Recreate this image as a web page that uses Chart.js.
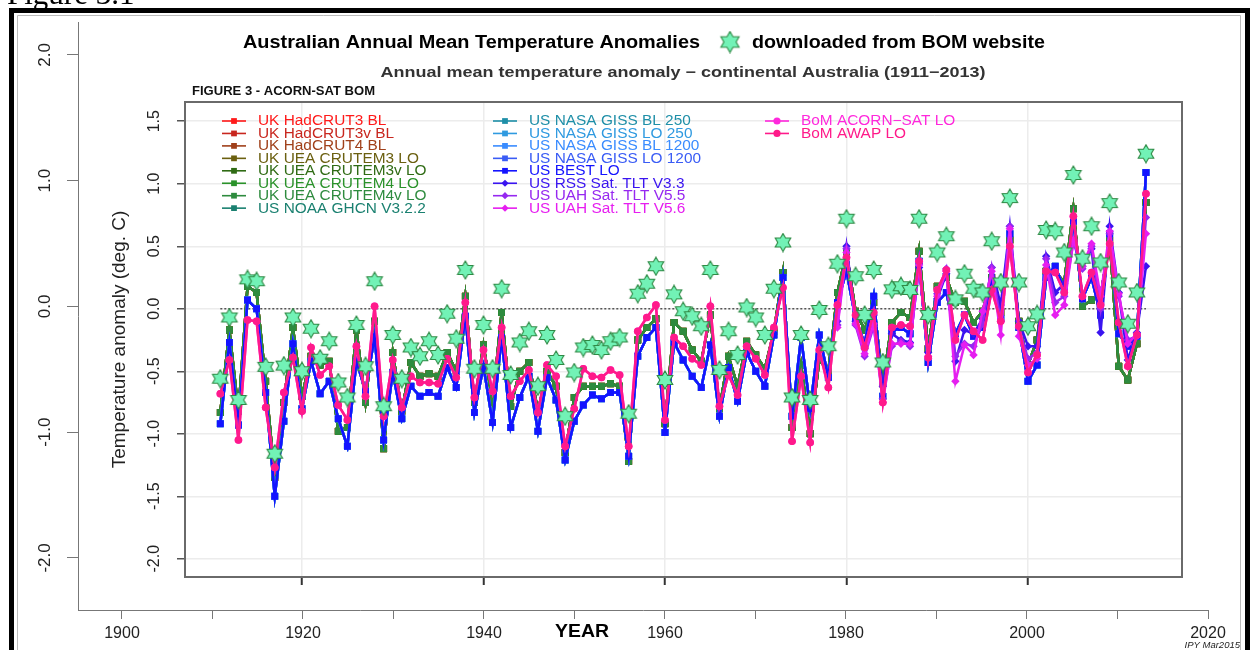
<!DOCTYPE html>
<html><head><meta charset="utf-8">
<script src="https://cdn.jsdelivr.net/npm/chart.js@4.4.1/dist/chart.umd.min.js"></script>
<style>
html,body{margin:0;padding:0;background:#fff;}
#wrap{position:relative;width:1258px;height:650px;overflow:hidden;background:#fff;}
canvas{position:absolute;left:0;top:0;}
</style></head><body>
<div id="wrap"><canvas id="inner" width="1258" height="650"></canvas><canvas id="outer" width="1258" height="650"></canvas></div>
<script>
// ---------------- DATA ----------------
const years = Array.from({length: 103}, (_, i) => 1911 + i);   // 1911..2013
const satYears = Array.from({length: 35}, (_, i) => 1979 + i); // 1979..2013

// UK HadCRUT / CRUTEM group (deg C anomaly)
const ukValues = [
 -0.83,-0.17,-0.82,0.18,0.13,-0.58,-1.35,-0.75,-0.15,-0.70,
 -0.38,-0.45,-0.42,-0.98,-0.95,-0.17,-0.75,-0.10,-1.12,-0.35,
 -0.82,-0.43,-0.54,-0.52,-0.54,-0.35,-0.50,0.10,-0.75,-0.29,
 -0.75,-0.03,-0.78,-0.50,-0.43,-0.82,-0.50,-0.62,-1.15,-0.71,
 -0.62,-0.62,-0.62,-0.60,-0.62,-1.22,-0.25,-0.15,-0.08,-0.92,
 -0.11,-0.18,-0.33,-0.42,-0.05,-0.80,-0.38,-0.62,-0.26,-0.37,
 -0.48,-0.18,0.29,-0.95,-0.45,-1.00,-0.41,-0.50,0.13,0.45,
 -0.02,-0.17,0.05,-0.60,-0.11,-0.03,-0.07,0.46,-0.32,0.18,
 0.25,0.05,0.06,-0.11,-0.02,0.25,-0.03,0.55,-0.10,-0.45,
 -0.25,0.30,0.30,0.21,0.80,0.02,0.07,0.10,0.55,-0.46,
 -0.57,-0.28,0.85
];
// US NOAA / NASA GISS / BEST group
const usValues = [
 -0.92,-0.27,-0.93,0.07,0.00,-0.67,-1.50,-0.90,-0.28,-0.80,
 -0.42,-0.68,-0.58,-0.88,-1.10,-0.42,-0.66,-0.22,-1.05,-0.51,
 -0.88,-0.62,-0.70,-0.67,-0.70,-0.47,-0.63,-0.06,-0.83,-0.46,
 -0.91,-0.23,-0.95,-0.71,-0.54,-0.98,-0.55,-0.73,-1.21,-0.90,
 -0.77,-0.69,-0.72,-0.67,-0.67,-1.18,-0.38,-0.23,-0.15,-0.99,
 -0.27,-0.41,-0.54,-0.63,-0.29,-0.86,-0.47,-0.74,-0.35,-0.50,
 -0.62,-0.21,0.25,-0.86,-0.23,-0.80,-0.21,-0.55,0.05,0.30,
 -0.08,-0.28,0.10,-0.70,-0.18,-0.15,-0.20,0.38,-0.43,0.05,
 0.13,-0.20,-0.05,-0.22,-0.15,0.20,-0.08,0.60,-0.15,-0.58,
 -0.45,0.25,0.34,0.15,0.70,0.08,0.25,-0.05,0.60,-0.20,
 -0.30,-0.22,1.09
];
// BoM ACORN-SAT / AWAP group
const bomValues = [
 -0.68,-0.41,-1.05,-0.09,-0.10,-0.79,-1.27,-0.67,-0.39,-0.82,
 -0.31,-0.53,-0.46,-0.77,-0.89,-0.30,-0.70,0.02,-0.86,-0.41,
 -0.79,-0.54,-0.59,-0.59,-0.60,-0.40,-0.55,0.05,-0.71,-0.33,
 -0.66,-0.15,-0.70,-0.58,-0.49,-0.83,-0.45,-0.54,-1.10,-0.80,
 -0.48,-0.54,-0.55,-0.49,-0.53,-1.10,-0.18,-0.07,0.03,-0.89,
 -0.23,-0.30,-0.40,-0.45,0.02,-0.78,-0.53,-0.69,-0.30,-0.40,
 -0.53,-0.15,0.17,-1.06,-0.54,-1.07,-0.33,-0.63,0.03,0.41,
 -0.05,-0.31,-0.03,-0.75,-0.15,-0.13,-0.14,0.38,-0.39,0.15,
 0.31,-0.25,-0.05,-0.18,-0.25,0.15,-0.10,0.50,-0.14,-0.51,
 -0.37,0.30,0.29,0.13,0.74,0.10,0.29,0.03,0.52,-0.11,
 -0.46,-0.21,0.92
];
// Satellite TLT series (1979-2013)
const rssValues = [
 -0.10,0.50,-0.10,-0.32,-0.05,-0.62,-0.20,-0.25,-0.27,0.33,
 -0.35,0.08,0.28,-0.42,-0.17,-0.20,-0.08,0.33,0.03,0.66,
 -0.10,-0.30,-0.30,0.42,0.13,0.20,0.55,0.34,0.48,-0.19,
 0.66,0.13,-0.41,-0.19,0.34
];
const uah55Values = [
 -0.13,0.48,-0.13,-0.38,-0.14,-0.72,-0.30,-0.26,-0.30,0.38,
 -0.40,0.12,0.32,-0.38,-0.28,-0.30,-0.12,0.33,-0.10,0.66,
 -0.15,-0.40,-0.35,0.40,0.05,0.10,0.53,0.32,0.50,0.00,
 0.60,0.10,-0.25,-0.22,0.73
];
const uah56Values = [
 -0.15,0.45,-0.12,-0.36,-0.12,-0.75,-0.28,-0.28,-0.28,0.35,
 -0.38,0.10,0.30,-0.58,-0.29,-0.37,-0.02,0.30,-0.21,0.64,
 -0.22,-0.45,-0.40,0.35,-0.05,0.03,0.55,0.34,0.52,0.10,
 0.62,0.12,-0.28,-0.20,0.60
];
// Stars: "downloaded from BOM website"
const bomWebsiteValues = [
 -0.56,-0.07,-0.73,0.235,0.22,-0.465,-1.16,-0.455,-0.07,-0.50,
 -0.16,-0.40,-0.26,-0.59,-0.71,-0.13,-0.46,0.22,-0.78,-0.21,
 -0.56,-0.31,-0.38,-0.26,-0.37,-0.04,-0.24,0.31,-0.48,-0.13,
 -0.48,0.16,-0.53,-0.27,-0.18,-0.62,-0.21,-0.41,-0.86,-0.51,
 -0.31,-0.29,-0.33,-0.26,-0.23,-0.84,0.12,0.20,0.34,-0.57,
 0.115,-0.02,-0.06,-0.14,0.31,-0.49,-0.18,-0.37,0.01,-0.07,
 -0.21,0.16,0.53,-0.71,-0.21,-0.73,-0.01,-0.30,0.36,0.72,
 0.26,-0.05,0.31,-0.43,0.155,0.18,0.15,0.72,-0.05,0.45,
 0.58,0.075,0.28,0.16,0.13,0.54,0.21,0.885,0.21,-0.14,
 -0.045,0.63,0.62,0.45,1.07,0.40,0.66,0.37,0.845,0.21,
 -0.12,0.13,1.24
];

const seriesNames = [
 'UK HadCRUT3 BL','UK HadCRUT3v BL','UK HadCRUT4 BL','UK UEA CRUTEM3 LO',
 'UK UEA CRUTEM3v LO','UK UEA CRUTEM4 LO','UK UEA CRUTEM4v LO','US NOAA GHCN V3.2.2',
 'US NASA GISS BL 250','US NASA GISS LO 250','US NASA GISS BL 1200','US NASA GISS LO 1200',
 'US BEST LO','US RSS Sat. TLT V3.3','US UAH Sat. TLT V5.5','US UAH Sat. TLT V5.6',
 'BoM ACORN\u2212SAT LO','BoM AWAP LO'
];
const seriesSource = ['uk','uk','uk','uk','uk','uk','uk','us','us','us','us','us','us','rss','uah55','uah56','bom','bom'];

const innerYTicks = [1.5,1.0,0.5,0.0,-0.5,-1.0,-1.5,-2.0];
const innerYLabels = ['1.5','1.0','0.5','0.0','-0.5','-1.0','-1.5','-2.0'];
const innerXTicks = [1920,1940,1960,1980,2000];
const outerYTicks = [2,1,0,-1,-2];
const outerYLabels = ['2.0','1.0','0.0','-1.0','-2.0'];
const outerXTicks = [1900,1910,1920,1930,1940,1950,1960,1970,1980,1990,2000,2010,2020];
const outerXLabels = ['1900','','1920','','1940','','1960','','1980','','2000','','2020'];

// ---------------- STYLES ----------------
const seriesColors = [
 '#ff1a1a','#c8261e','#a0401a','#6b6010','#2f6b14','#2a922a','#2e8b3e','#1a8070',
 '#1f8fa8','#2f9ae0','#3a8cff','#3a5cf5','#1414ff','#3a14f0','#9628f0','#e61ef0',
 '#ff28dc','#ff1a8a'
];
const seriesStyles = ['rect','rect','rect','rect','rect','rect','rect','rect',
 'rect','rect','rect','rect','rect','rectRot','rectRot','rectRot','circle','circle'];
const styleRadius = {rect: 4.8, rectRot: 4.2, circle: 3.8};
const FONT = '"Liberation Sans", Arial, sans-serif';

const sources = {
  uk: [years, ukValues], us: [years, usValues], bom: [years, bomValues],
  rss: [satYears, rssValues], uah55: [satYears, uah55Values], uah56: [satYears, uah56Values]
};
function pts(xs, ys) { return xs.map((x, i) => ({x: x, y: ys[i]})); }

function makeStar(size) {
  const c = document.createElement('canvas');
  c.width = size; c.height = size;
  const g = c.getContext('2d');
  const cx = size / 2, cy = size / 2, R = size / 2 - 1, r = R / Math.sqrt(3);
  g.beginPath();
  for (let k = 0; k < 12; k++) {
    const a = -Math.PI / 2 + k * Math.PI / 6;
    const rad = (k % 2 === 0) ? R : r;
    g.lineTo(cx + rad * Math.cos(a), cy + rad * Math.sin(a));
  }
  g.closePath();
  g.fillStyle = '#72f2b6';
  g.fill();
  g.lineWidth = 1.1;
  g.strokeStyle = '#2f8a45';
  g.stroke();
  return c;
}
const starImg = makeStar(20);
const starImgBig = makeStar(23);

function drawMarker(ctx, style, x, y, r) {
  ctx.beginPath();
  if (style === 'circle') ctx.arc(x, y, r, 0, Math.PI * 2);
  else if (style === 'rectRot') { ctx.moveTo(x, y - r); ctx.lineTo(x + r, y); ctx.lineTo(x, y + r); ctx.lineTo(x - r, y); ctx.closePath(); }
  else { const s = r * 0.8; ctx.rect(x - s, y - s, 2 * s, 2 * s); }
  ctx.fill();
}
// draw text stretched horizontally to a given width
function fitText(ctx, text, x, y, width, align) {
  const w = ctx.measureText(text).width;
  const sx = width / w;
  ctx.save();
  ctx.translate(x, y); ctx.scale(sx, 1); ctx.textAlign = 'left';
  ctx.fillText(text, align === 'center' ? -w / 2 : 0, 0);
  ctx.restore();
}
function scaledText(ctx, text, x, y, sx) {
  ctx.save(); ctx.translate(x, y); ctx.scale(sx, 1); ctx.textAlign = 'left';
  ctx.fillText(text, 0, 0); ctx.restore();
}

// ---------------- INNER CHART ----------------
const datasets = seriesNames.map((name, i) => {
  const src = sources[seriesSource[i]];
  return {
    label: name,
    data: pts(src[0], src[1]),
    borderColor: seriesColors[i],
    backgroundColor: seriesColors[i],
    borderWidth: 2.5,
    pointStyle: seriesStyles[i],
    pointRadius: styleRadius[seriesStyles[i]],
    pointBorderWidth: 0,
    order: 100 - i
  };
});
datasets.push({
  label: 'zero', data: [{x: 1911, y: 0}, {x: 2013, y: 0}],
  borderColor: '#555', borderWidth: 1.5, borderDash: [2, 2], pointRadius: 0, order: 200
});
datasets.push({
  label: 'downloaded from BOM website', data: pts(years, bomWebsiteValues),
  showLine: false, pointStyle: starImg, pointRadius: 10, order: -1
});

const innerDecor = {
  id: 'innerDecor',
  afterDraw(chart) {
    const ctx = chart.ctx, a = chart.chartArea;
    ctx.save();
    // plot border
    ctx.strokeStyle = '#6a6a6a'; ctx.lineWidth = 2;
    ctx.strokeRect(a.left, a.top, a.right - a.left, a.bottom - a.top);
    // rotated y tick labels
    const ys = chart.scales.y;
    ctx.font = '16px ' + FONT; ctx.fillStyle = '#222'; ctx.textAlign = 'center'; ctx.textBaseline = 'middle';
    innerYTicks.forEach((v, i) => {
      ctx.save(); ctx.translate(155, ys.getPixelForValue(v)); ctx.rotate(-Math.PI / 2);
      ctx.fillText(innerYLabels[i], 0, 0); ctx.restore();
    });
    // subtitle + figure label
    ctx.font = 'bold 14.5px ' + FONT; ctx.fillStyle = '#333';
    fitText(ctx, 'Annual mean temperature anomaly \u2212 continental Australia (1911\u22122013)', 683, 73, 605, 'center');
    ctx.font = 'bold 12px ' + FONT; ctx.fillStyle = '#111';
    fitText(ctx, 'FIGURE 3 - ACORN-SAT BOM', 192, 92, 183, 'left');
    // legend (3 columns)
    const cols = [{x: 222, from: 0, to: 8}, {x: 493, from: 8, to: 16}, {x: 765, from: 16, to: 18}];
    ctx.font = '14px ' + FONT; ctx.textBaseline = 'middle';
    cols.forEach(col => {
      for (let i = col.from; i < col.to; i++) {
        const y = 121 + (i - col.from) * 12.45;
        ctx.strokeStyle = seriesColors[i]; ctx.fillStyle = seriesColors[i]; ctx.lineWidth = 1.6;
        ctx.beginPath(); ctx.moveTo(col.x, y); ctx.lineTo(col.x + 24, y); ctx.stroke();
        drawMarker(ctx, seriesStyles[i], col.x + 12, y, 3.6);
        scaledText(ctx, seriesNames[i], col.x + 36, y + 0.5, 1.1);
      }
    });
    ctx.restore();
  }
};

new Chart(document.getElementById('inner'), {
  type: 'line',
  data: {datasets: datasets},
  options: {
    responsive: false, animation: false, devicePixelRatio: 1,
    layout: {padding: {left: 100, top: 102, right: 76, bottom: 40}},
    plugins: {legend: {display: false}, tooltip: {enabled: false}},
    scales: {
      x: {
        type: 'linear', min: 1907.11, max: 2016.97,
        afterBuildTicks: s => { s.ticks = innerXTicks.map(v => ({value: v})); },
        afterFit: s => { s.height = 33; },
        ticks: {display: false},
        grid: {color: '#ececec', lineWidth: 1.5, tickColor: '#333', tickLength: 8, tickWidth: 2},
        border: {display: false}
      },
      y: {
        type: 'linear', min: -2.146, max: 1.654,
        afterBuildTicks: s => { s.ticks = innerYTicks.map(v => ({value: v})); },
        afterFit: s => { s.width = 85; },
        ticks: {display: false},
        grid: {color: '#ececec', lineWidth: 1.5, tickColor: '#555', tickLength: 8, tickWidth: 1.5},
        border: {display: false},
        title: {display: true, text: 'Temperature anomaly (deg. C)', color: '#222',
                font: {family: FONT, size: 19}, padding: {top: 8.6, bottom: 0}}
      }
    }
  },
  plugins: [innerDecor]
});

// ---------------- OUTER CHART ----------------
const outerDecor = {
  id: 'outerDecor',
  afterDraw(chart) {
    const ctx = chart.ctx;
    ctx.save();
    // frame
    ctx.fillStyle = '#000';
    ctx.fillRect(9, 8, 5, 642);
    ctx.fillRect(9, 8, 1241, 5);
    ctx.fillRect(1245, 8, 5, 642);
    ctx.strokeStyle = '#bbb'; ctx.lineWidth = 1;
    ctx.beginPath(); ctx.moveTo(17.5, 650); ctx.lineTo(17.5, 15.5); ctx.lineTo(1240.5, 15.5); ctx.lineTo(1240.5, 650); ctx.stroke();
    // cut-off caption above the frame
    ctx.fillStyle = '#000'; ctx.font = '31px "Liberation Serif", "Times New Roman", serif';
    ctx.textAlign = 'left'; ctx.textBaseline = 'alphabetic';
    ctx.fillText('Figure 3.1', 7, 4);
    // outer rotated y labels
    const ys = chart.scales.y;
    ctx.font = '17px ' + FONT; ctx.fillStyle = '#222'; ctx.textAlign = 'center'; ctx.textBaseline = 'middle';
    outerYTicks.forEach((v, i) => {
      ctx.save(); ctx.translate(45, ys.getPixelForValue(v)); ctx.rotate(-Math.PI / 2);
      ctx.fillText(outerYLabels[i], 0, 0); ctx.restore();
    });
    // title line
    ctx.font = 'bold 18px ' + FONT; ctx.fillStyle = '#000';
    fitText(ctx, 'Australian Annual Mean Temperature Anomalies', 243, 43, 457, 'left');
    ctx.drawImage(starImgBig, 730 - 11.5, 42 - 11.5);
    fitText(ctx, 'downloaded from BOM website', 752, 43, 293, 'left');
    // x title
    ctx.font = 'bold 18px ' + FONT;
    fitText(ctx, 'YEAR', 582, 632, 54, 'center');
    ctx.font = 'italic 9.5px ' + FONT; ctx.textAlign = 'right'; ctx.fillStyle = '#222';
    ctx.fillText('IPY Mar2015', 1240, 645);
    ctx.restore();
  }
};

new Chart(document.getElementById('outer'), {
  type: 'scatter',
  data: {datasets: []},
  options: {
    responsive: false, animation: false, devicePixelRatio: 1,
    layout: {padding: {left: 0, top: 22, right: 50, bottom: 0}},
    plugins: {legend: {display: false}, tooltip: {enabled: false}},
    scales: {
      x: {
        type: 'linear', position: 'bottom', min: 1895.14, max: 2020,
        afterBuildTicks: s => { s.ticks = outerXTicks.map(v => ({value: v})); },
        afterFit: s => { s.height = 40; },
        ticks: {autoSkip: false, maxRotation: 0, padding: 5, color: '#222',
                font: {family: FONT, size: 16},
                callback: (v) => outerXLabels[outerXTicks.indexOf(v)] ?? ''},
        grid: {drawOnChartArea: false, drawTicks: true, tickLength: 9, tickColor: '#777', tickWidth: 1},
        border: {display: true, color: '#777', width: 1}
      },
      y: {
        type: 'linear', position: 'left', min: -2.414, max: 2.262,
        afterBuildTicks: s => { s.ticks = outerYTicks.map(v => ({value: v})); },
        afterFit: s => { s.width = 78; },
        ticks: {display: false},
        grid: {drawOnChartArea: false, drawTicks: true, tickLength: 11, tickColor: '#777', tickWidth: 1},
        border: {display: true, color: '#777', width: 1}
      }
    }
  },
  plugins: [outerDecor]
});
</script>
</body></html>
